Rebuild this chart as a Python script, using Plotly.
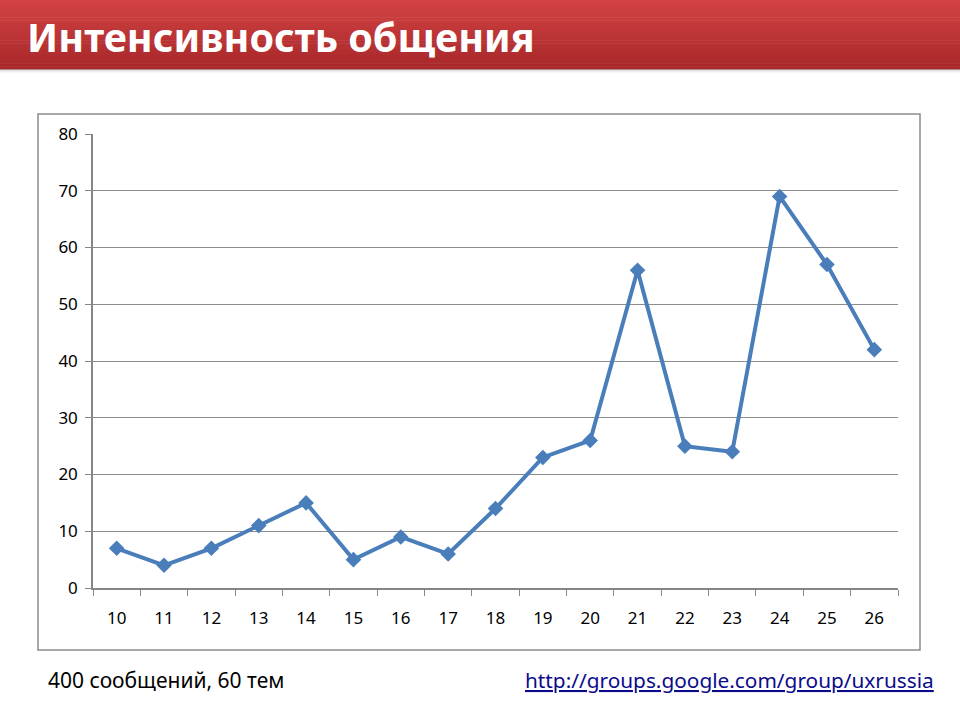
import plotly.graph_objects as go

categories = ["10", "11", "12", "13", "14", "15", "16", "17", "18", "19", "20", "21", "22", "23", "24", "25", "26"]
values = [7, 4, 7, 11, 15, 5, 9, 6, 14, 23, 26, 56, 25, 24, 69, 57, 42]
y_ticks = [0, 10, 20, 30, 40, 50, 60, 70, 80]

title_text = "Интенсивность общения"
note_text = "400 сообщений, 60 тем"
url_text = "http://groups.google.com/group/uxrussia"

W, H = 960, 720
FONT = "Noto Sans"

fig = go.Figure()
fig.add_trace(go.Scatter(
    x=categories, y=values, mode="lines+markers",
    line=dict(color="#4A7EBB", width=4),
    marker=dict(symbol="diamond", size=12, color="#4A7EBB"),
    showlegend=False, hoverinfo="x+y",
))

shapes = []
top = (0xD2, 0x43, 0x43)
bot = (0xA8, 0x28, 0x2A)
n = 24
bh = 69
for i in range(n):
    t = i / (n - 1)
    c = tuple(int(top[k] + (bot[k] - top[k]) * t) for k in range(3))
    y0 = i * bh / n
    y1 = (i + 1) * bh / n + 0.5
    shapes.append(dict(type="rect", xref="paper", yref="paper",
                       x0=0, x1=1, y0=1 - y1 / H, y1=1 - y0 / H,
                       fillcolor="rgb(%d,%d,%d)" % c, line=dict(width=0), layer="below"))
for i, a in enumerate([0.35, 0.22, 0.12, 0.06]):
    shapes.append(dict(type="rect", xref="paper", yref="paper",
                       x0=0, x1=1, y0=1 - (bh + i + 1) / H, y1=1 - (bh + i) / H,
                       fillcolor="rgba(120,120,120,%.2f)" % a, line=dict(width=0), layer="below"))
shapes.append(dict(type="rect", xref="paper", yref="paper",
                   x0=38 / W, x1=920 / W, y0=1 - 650 / H, y1=1 - 114 / H,
                   line=dict(color="#8C8C8C", width=1.5), fillcolor="rgba(0,0,0,0)", layer="below"))

annotations = [
    dict(text=title_text, xref="paper", yref="paper", x=25 / W, y=1 - 37 / H,
         xanchor="left", yanchor="middle", showarrow=False,
         font=dict(family=FONT, size=39.5, color="white", weight="bold")),
    dict(text=note_text, xref="paper", yref="paper", x=46 / W, y=1 - 680 / H,
         xanchor="left", yanchor="middle", showarrow=False,
         font=dict(family=FONT, size=21, color="black")),
    dict(text="<u>" + url_text + "</u>", xref="paper", yref="paper", x=936 / W, y=1 - 680 / H,
         xanchor="right", yanchor="middle", showarrow=False,
         font=dict(family=FONT, size=20.8, color="#0B0B8C")),
]

fig.update_layout(
    width=W, height=H,
    margin=dict(l=0, r=0, t=0, b=0, pad=0, autoexpand=False),
    paper_bgcolor="white", plot_bgcolor="white",
    shapes=shapes, annotations=annotations,
    xaxis=dict(type="category", domain=[93 / W, 898 / W], anchor="y", automargin=False,
               range=[-0.5, len(categories) - 0.5],
               tickson="boundaries", ticks="outside", ticklen=6, tickcolor="#868686",
               ticklabelstandoff=14,
               showline=True, linecolor="#868686", linewidth=1.5, showgrid=False,
               tickfont=dict(family=FONT, size=17, color="black"), fixedrange=True),
    yaxis=dict(domain=[1 - 588 / H, 1 - 134 / H], range=[0, 80], tickvals=y_ticks, automargin=False,
               ticks="outside", ticklen=6, tickcolor="#868686",
               ticklabelstandoff=4,
               showline=True, linecolor="#868686", linewidth=1.5,
               showgrid=True, gridcolor="#8C8C8C", gridwidth=1.2, zeroline=False,
               tickfont=dict(family=FONT, size=17, color="black"), fixedrange=True),
)

fig.write_html("out.html", config={"displayModeBar": False},
               post_script="document.body.style.margin='0';")
